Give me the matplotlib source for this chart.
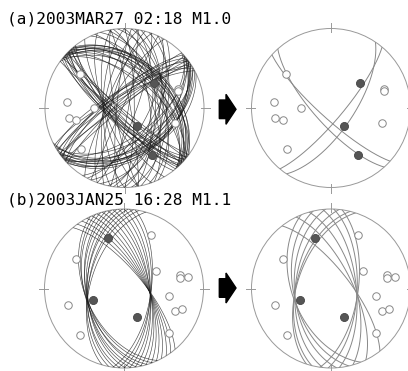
import numpy as np
import matplotlib.pyplot as plt
from matplotlib.patches import Circle, Polygon

# station positions on the lower-hemisphere net (x = east, y = north, radius 1)
a_open_x = [-0.56, -0.72, -0.38, -0.70, -0.61, -0.55, 0.67, 0.67, 0.64]
a_open_y = [0.43, 0.07, 0.00, -0.13, -0.15, -0.52, 0.24, 0.21, -0.19]
a_fill_x = [0.37, 0.16, 0.34]
a_fill_y = [0.32, -0.23, -0.59]

b_open_x = [-0.60, 0.34, 0.40, 0.70, 0.70, 0.80, 0.57, 0.64, 0.73, 0.57, -0.70, -0.55]
b_open_y = [0.37, 0.67, 0.22, 0.17, 0.13, 0.14, -0.10, -0.28, -0.26, -0.56, -0.21, -0.58]
b_fill_x = [-0.20, -0.39, 0.16]
b_fill_y = [0.63, -0.14, -0.36]

# nodal planes (strike, dip; dip to the right of strike)
a_init_strike = [126, 128, 129, 130, 131, 132, 133, 134, 135, 136, 137, 138, 140, 142,
                 306, 308, 309, 310, 311, 312, 313, 314, 315, 316, 317, 318, 319, 320,
                 226, 228, 229, 231, 232, 233, 234, 235, 237, 238, 240, 242,
                 46, 48, 49, 50, 51, 52, 53, 54, 55, 56, 58, 60, 62, 64,
                 335, 342, 348, 355, 0, 5, 12, 18, 25, 32, 338, 352, 8, 28,
                 150, 160, 170, 180, 190, 200, 210,
                 350, 0, 10, 20, 185, 195, 205, 170]
a_init_dip = [84, 76, 88, 73, 80, 74, 78, 86, 75, 72, 82, 77, 79, 74,
              48, 40, 58, 44, 38, 52, 42, 62, 46, 39, 55, 41, 50, 43,
              82, 74, 88, 72, 78, 84, 73, 86, 76, 80, 72, 77,
              46, 38, 56, 40, 50, 39, 44, 60, 41, 48, 42, 54, 45, 40,
              52, 48, 55, 46, 58, 50, 54, 47, 56, 60, 62, 64, 62, 66,
              74, 70, 69, 68, 69, 71, 75,
              84, 80, 86, 78, 82, 76, 88, 80]
a_best_strike = [132, 138, 40, 34]
a_best_dip = [79, 73, 78, 67]

b_init_strike = [155, 159, 163, 167, 171, 175, 179, 183, 187, 191, 196,
                 320, 324, 328, 332, 336, 340, 344, 348, 352, 356, 0, 4, 8]
b_init_dip = [50, 50, 49, 51, 50, 51, 52, 51, 53, 53, 55,
              71, 70, 69, 68, 67, 66, 65, 64, 64, 63, 63, 62, 62]
b_best_strike = [158, 167, 176, 186, 194, 198, 322, 334, 344, 354, 2, 8]
b_best_dip = [50, 51, 52, 53, 54, 55, 71, 68, 65, 64, 63, 62]

titles = ['(a)2003MAR27 02:18 M1.0', '(b)2003JAN25 16:28 M1.1']

W, H = 408, 371
R = 79.5


def plane_xy(strike, dip):
    # great circle of a plane on an equal-area lower-hemisphere net
    s = np.radians(strike)
    d = np.radians(dip)
    t = np.linspace(0, np.pi, 200)
    n = np.cos(t) * np.cos(s) + np.sin(t) * np.cos(s + np.pi / 2) * np.cos(d)
    e = np.cos(t) * np.sin(s) + np.sin(t) * np.sin(s + np.pi / 2) * np.cos(d)
    z = np.sin(t) * np.sin(d)
    return e / np.sqrt(1 + z), n / np.sqrt(1 + z)


def net(cx, cy, strikes, dips, ox, oy, fx, fy, line_color, lw, alpha):
    ax = fig.add_axes([(cx - 1.1 * R) / W, (H - cy - 1.1 * R) / H, 2.2 * R / W, 2.2 * R / H])
    ax.set_xlim(-1.1, 1.1)
    ax.set_ylim(-1.1, 1.1)
    ax.set_aspect('equal')
    ax.axis('off')
    rim = Circle((0, 0), 1, facecolor='none', edgecolor='#999999', lw=0.7)
    ax.add_patch(rim)
    for x0, y0, x1, y1 in [(0, 0.96, 0, 1.07), (0, -0.96, 0, -1.07), (0.96, 0, 1.07, 0), (-0.96, 0, -1.07, 0)]:
        ax.plot([x0, x1], [y0, y1], color='#999999', lw=0.7)
    for s, d in zip(strikes, dips):
        x, y = plane_xy(s, d)
        ln, = ax.plot(x, y, color=line_color, lw=lw, alpha=alpha)
        ln.set_clip_path(rim)
    ax.plot(ox, oy, 'o', ms=5.4, mfc='white', mec='#888888', mew=0.7, zorder=5)
    ax.plot(fx, fy, 'o', ms=5.8, mfc='#555555', mec='#444444', mew=0.6, zorder=5)


fig = plt.figure(figsize=(W / 100, H / 100), dpi=100)

net(124.5, 108, a_init_strike, a_init_dip, a_open_x, a_open_y, a_fill_x, a_fill_y, '#1a1a1a', 0.45, 0.8)
net(331, 108, a_best_strike, a_best_dip, a_open_x, a_open_y, a_fill_x, a_fill_y, '#888888', 0.7, 1)
net(124, 288.5, b_init_strike, b_init_dip, b_open_x, b_open_y, b_fill_x, b_fill_y, '#1a1a1a', 0.45, 0.8)
net(331, 288.5, b_best_strike, b_best_dip, b_open_x, b_open_y, b_fill_x, b_fill_y, '#888888', 0.7, 1)

# overlay for titles and arrows, in pixel units
ov = fig.add_axes([0, 0, 1, 1])
ov.set_xlim(0, W)
ov.set_ylim(H, 0)
ov.axis('off')
for ay in [109.3, 288]:
    ov.add_patch(Polygon([(219.3, ay - 9.3), (226, ay - 9.3), (226, ay - 15), (236, ay),
                          (226, ay + 15), (226, ay + 9.3), (219.3, ay + 9.3)],
                         closed=True, color='black'))
for t, ty in zip(titles, [18.5, 200]):
    ov.text(7, ty, t, fontsize=11.6, family='DejaVu Sans Mono', va='center', ha='left')

fig.savefig('out.png', dpi=100)
